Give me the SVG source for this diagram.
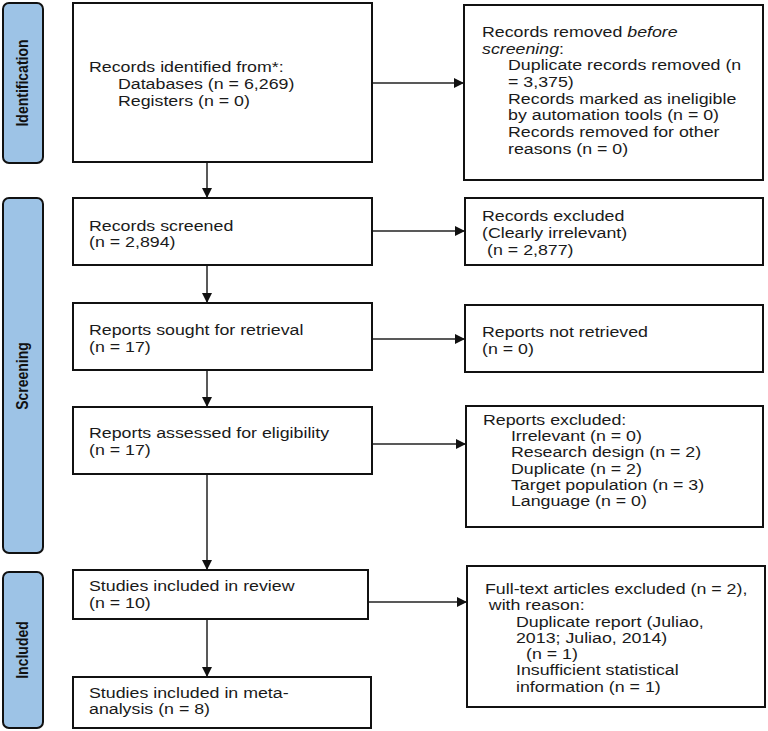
<svg xmlns="http://www.w3.org/2000/svg" width="768" height="731" viewBox="0 0 768 731">
<style>
.bg{fill:#ffffff}
.box{fill:#ffffff;stroke:#111111;stroke-width:2}
.bar{fill:#9dc3e6;stroke:#111111;stroke-width:2}
.t{font-family:"Liberation Sans",Arial,sans-serif;font-size:14px;fill:#1a1a1a}
.lab{font-family:"Liberation Sans",Arial,sans-serif;font-size:14px;font-weight:bold;fill:#111111;text-anchor:middle}
.c{fill:none;stroke:#222222;stroke-width:1.5;marker-end:url(#ah)}
</style>
<defs>
<marker id="ah" markerUnits="userSpaceOnUse" markerWidth="10" markerHeight="10" refX="10" refY="5" orient="auto">
<path d="M0,0 L10,5 L0,10 z" fill="#111111"/>
</marker>
</defs>
<rect class="bg" x="0" y="0" width="768" height="731"/>

<g id="phase-identification">
<rect class="bar" x="3" y="3" width="40" height="160" rx="6"/>
<text class="lab" transform="translate(28,83) rotate(-90) scale(1,1.15)">Identification</text>
</g>
<g id="phase-screening">
<rect class="bar" x="3" y="198" width="40" height="355" rx="6"/>
<text class="lab" transform="translate(28,376) rotate(-90) scale(1,1.15)">Screening</text>
</g>
<g id="phase-included">
<rect class="bar" x="3" y="572" width="40" height="156" rx="6"/>
<text class="lab" transform="translate(28,650) rotate(-90) scale(1,1.15)">Included</text>
</g>

<g id="connectors">
<line class="c" x1="207" y1="162" x2="207" y2="198"/>
<line class="c" x1="207" y1="265" x2="207" y2="303"/>
<line class="c" x1="207" y1="370" x2="207" y2="407"/>
<line class="c" x1="207" y1="474" x2="207" y2="570"/>
<line class="c" x1="207" y1="619" x2="207" y2="677"/>
<line class="c" x1="372" y1="83" x2="464" y2="83"/>
<line class="c" x1="372" y1="231" x2="465" y2="231"/>
<line class="c" x1="372" y1="339" x2="465" y2="339"/>
<line class="c" x1="372" y1="444" x2="466" y2="444"/>
<line class="c" x1="368" y1="602" x2="467" y2="602"/>
</g>

<g id="records-identified">
<rect class="box" x="73" y="3" width="299" height="159"/>
<text class="t" transform="translate(89,72.3) scale(1.27,1)"><tspan x="0">Records identified from*:</tspan><tspan x="22.8" dy="16.7">Databases (n = 6,269)</tspan><tspan x="22.8" dy="16.7">Registers (n = 0)</tspan></text>
</g>

<g id="records-removed">
<rect class="box" x="464" y="5" width="299" height="175"/>
<text class="t" transform="translate(482,37) scale(1.27,1)"><tspan x="0">Records removed <tspan font-style="italic">before</tspan></tspan><tspan x="0" dy="16.7" font-style="italic">screening</tspan><tspan>:</tspan><tspan x="20.5" dy="16.7">Duplicate records removed (n</tspan><tspan x="20.5" dy="16.7">= 3,375)</tspan><tspan x="20.5" dy="16.7">Records marked as ineligible</tspan><tspan x="20.5" dy="16.7">by automation tools (n = 0)</tspan><tspan x="20.5" dy="16.7">Records removed for other</tspan><tspan x="20.5" dy="16.7">reasons (n = 0)</tspan></text>
</g>

<g id="records-screened">
<rect class="box" x="73" y="198" width="299" height="67"/>
<text class="t" transform="translate(89,230.5) scale(1.27,1)"><tspan x="0">Records screened</tspan><tspan x="0" dy="16.7">(n = 2,894)</tspan></text>
</g>

<g id="records-excluded">
<rect class="box" x="465" y="198" width="298" height="67"/>
<text class="t" transform="translate(482,221) scale(1.27,1)"><tspan x="0">Records excluded</tspan><tspan x="0" dy="17">(Clearly irrelevant)</tspan><tspan x="4" dy="17">(n = 2,877)</tspan></text>
</g>

<g id="reports-sought">
<rect class="box" x="73" y="303" width="299" height="67"/>
<text class="t" transform="translate(89,335) scale(1.27,1)"><tspan x="0">Reports sought for retrieval</tspan><tspan x="0" dy="16.7">(n = 17)</tspan></text>
</g>

<g id="reports-not-retrieved">
<rect class="box" x="465" y="305" width="298" height="67"/>
<text class="t" transform="translate(482,337) scale(1.27,1)"><tspan x="0">Reports not retrieved</tspan><tspan x="0" dy="16.7">(n = 0)</tspan></text>
</g>

<g id="reports-assessed">
<rect class="box" x="73" y="407" width="299" height="67"/>
<text class="t" transform="translate(89,438) scale(1.27,1)"><tspan x="0">Reports assessed for eligibility</tspan><tspan x="0" dy="16.7">(n = 17)</tspan></text>
</g>

<g id="reports-excluded">
<rect class="box" x="466" y="406" width="297" height="121"/>
<text class="t" transform="translate(483,425) scale(1.27,1)"><tspan x="0">Reports excluded:</tspan><tspan x="22" dy="16.2">Irrelevant (n = 0)</tspan><tspan x="22" dy="16.2">Research design (n = 2)</tspan><tspan x="22" dy="16.2">Duplicate (n = 2)</tspan><tspan x="22" dy="16.2">Target population (n = 3)</tspan><tspan x="22" dy="16.2">Language (n = 0)</tspan></text>
</g>

<g id="studies-review">
<rect class="box" x="73" y="570" width="295" height="49"/>
<text class="t" transform="translate(89,591) scale(1.27,1)"><tspan x="0">Studies included in review</tspan><tspan x="0" dy="16.7">(n = 10)</tspan></text>
</g>

<g id="studies-meta">
<rect class="box" x="73" y="677" width="298" height="51"/>
<text class="t" transform="translate(89,698) scale(1.27,1)"><tspan x="0">Studies included in meta-</tspan><tspan x="0" dy="16.3">analysis (n = 8)</tspan></text>
</g>

<g id="fulltext-excluded">
<rect class="box" x="467" y="566" width="298" height="141"/>
<text class="t" transform="translate(485,594) scale(1.27,1)"><tspan x="0">Full-text articles excluded (n = 2),</tspan><tspan x="3" dy="16.3">with reason:</tspan><tspan x="24.4" dy="16.3">Duplicate report (Juliao,</tspan><tspan x="24.4" dy="16.3">2013; Juliao, 2014)</tspan><tspan x="32.3" dy="16.3">(n = 1)</tspan><tspan x="24.4" dy="16.3">Insufficient statistical</tspan><tspan x="24.4" dy="16.3">information (n = 1)</tspan></text>
</g>
</svg>
